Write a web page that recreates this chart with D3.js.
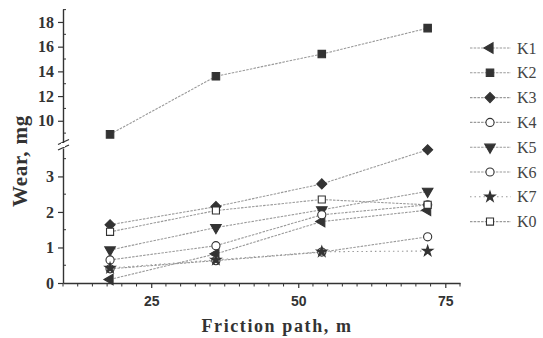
<!DOCTYPE html>
<html>
<head>
<meta charset="utf-8">
<script src="https://cdn.jsdelivr.net/npm/d3@7"></script>
<style>
  html, body { margin: 0; padding: 0; background: #fff; }
  svg { display: block; }
</style>
</head>
<body>
<svg id="chart" width="543" height="338"></svg>
<script>
// Friction path (m) at which wear was measured
const path = [18, 36, 54, 72];

// Wear (mg) per composition
const seriesNames = ["K1", "K2", "K3", "K4", "K5", "K6", "K7", "K0"];
const K1 = [0.10, 0.82, 1.73, 2.05];
const K2 = [8.9, 13.6, 15.4, 17.5];
const K3 = [1.64, 2.15, 2.79, 3.75];
const K4 = [0.40, 0.63, 0.87, 1.30];
const K5 = [0.93, 1.56, 2.06, 2.58];
const K6 = [0.65, 1.05, 1.92, 2.20];
const K7 = [0.42, 0.65, 0.88, 0.90];
const K0 = [1.44, 2.04, 2.35, 2.20];
const seriesValues = [K1, K2, K3, K4, K5, K6, K7, K0];

// Axis ticks
const xTicks = [25, 50, 75];
const yTicksLow = [0, 1, 2, 3];
const yTicksHigh = [10, 12, 14, 16, 18];

const svg = d3.select("#chart");
const ink = "#333";
const lineGray = "#9a9a9a";
const serif = "'Liberation Serif', 'DejaVu Serif', serif";
const sans = "'Liberation Sans', Arial, sans-serif";

// Scales: x axis, and a broken y axis (lower and upper segments)
const x = d3.scaleLinear().domain([10, 77.5]).range([63, 460]);
const yLow = d3.scaleLinear().domain([0, 3.8]).range([283, 148]);
const yHigh = d3.scaleLinear().domain([8.2, 19.05]).range([143, 9]);
const yFor = v => (v > 5 ? yHigh(v) : yLow(v));

// Marker shapes per series
const sym = {
  K1: { type: d3.symbolTriangle, rot: -90, fill: ink, size: 48 },
  K2: { type: d3.symbolSquare, rot: 0, fill: ink, size: 56 },
  K3: { type: d3.symbolSquare, rot: 45, fill: ink, size: 50 },
  K4: { type: d3.symbolCircle, rot: 0, fill: "#fff", size: 52 },
  K5: { type: d3.symbolTriangle, rot: 180, fill: ink, size: 48 },
  K6: { type: d3.symbolCircle, rot: 0, fill: "#fff", size: 52 },
  K7: { type: d3.symbolStar, rot: 0, fill: ink, size: 34 },
  K0: { type: d3.symbolSquare, rot: 0, fill: "#fff", size: 50 }
};
const dashFor = name => (name === "K7" ? "1.5,3" : "2.5,1.2");

// Axes
const axisG = svg.append("g");

// x axis
const xAxis = d3.axisBottom(x).tickValues(xTicks).tickSize(5).tickSizeOuter(0);
const gx = axisG.append("g").attr("transform", "translate(0,283)").call(xAxis);
gx.select(".domain").attr("stroke", ink).attr("stroke-width", 1.4);
gx.selectAll(".tick line").attr("stroke", ink).attr("stroke-width", 1.2);
gx.selectAll(".tick text").attr("font-family", sans).attr("font-weight", "bold")
  .attr("font-size", 14).attr("fill", ink).attr("dy", "1.05em");
const xMinor = d3.range(10, 78, 2.5).filter(v => !xTicks.includes(v));
axisG.append("g").selectAll("line").data(xMinor).join("line")
  .attr("x1", d => x(d)).attr("x2", d => x(d))
  .attr("y1", 283).attr("y2", 286.5)
  .attr("stroke", ink).attr("stroke-width", 1);

// y axis, lower segment
const gyl = axisG.append("g").attr("transform", "translate(63,0)")
  .call(d3.axisLeft(yLow).tickValues(yTicksLow).tickFormat(d3.format("d"))
    .tickSize(5).tickSizeOuter(0));
// y axis, upper segment
const gyh = axisG.append("g").attr("transform", "translate(63,0)")
  .call(d3.axisLeft(yHigh).tickValues(yTicksHigh).tickFormat(d3.format("d"))
    .tickSize(5).tickSizeOuter(0));
[gyl, gyh].forEach(g => {
  g.select(".domain").attr("stroke", ink).attr("stroke-width", 1.4);
  g.selectAll(".tick line").attr("stroke", ink).attr("stroke-width", 1.2);
  g.selectAll(".tick text").attr("font-family", serif).attr("font-weight", "bold")
    .attr("font-size", 16).attr("fill", ink).attr("x", -9);
});
const yMinorLow = d3.range(0.5, 3.8, 1);
const yMinorHigh = d3.range(9, 19.05, 1).filter(v => !yTicksHigh.includes(v));
axisG.append("g").selectAll("line")
  .data(yMinorLow.map(yLow).concat(yMinorHigh.map(yHigh))).join("line")
  .attr("x1", 63).attr("x2", 66).attr("y1", d => d).attr("y2", d => d)
  .attr("stroke", ink).attr("stroke-width", 1);

// axis break marks
[141.5, 147].forEach(yy => {
  axisG.append("line")
    .attr("x1", 58).attr("y1", yy + 3).attr("x2", 69).attr("y2", yy - 2)
    .attr("stroke", ink).attr("stroke-width", 1.3);
});
axisG.append("rect").attr("x", 61).attr("y", 143).attr("width", 4).attr("height", 4)
  .attr("fill", "#fff");

// Series lines and markers
const line = d3.line().x((d, i) => x(path[i])).y(d => yFor(d));
const plot = svg.append("g");
seriesNames.forEach((name, si) => {
  const vals = seriesValues[si];
  plot.append("path").datum(vals)
    .attr("d", line).attr("fill", "none")
    .attr("stroke", lineGray).attr("stroke-width", 1.1)
    .attr("stroke-dasharray", dashFor(name));
});
seriesNames.forEach((name, si) => {
  const vals = seriesValues[si];
  const s = sym[name];
  plot.append("g").selectAll("path").data(vals).join("path")
    .attr("d", d3.symbol().type(s.type).size(s.size))
    .attr("transform", (d, i) => `translate(${x(path[i])},${yFor(d)}) rotate(${s.rot})`)
    .attr("fill", s.fill).attr("stroke", ink).attr("stroke-width", 1.1);
});

// Axis titles
svg.append("text").attr("x", 277).attr("y", 332).attr("text-anchor", "middle")
  .attr("font-family", serif).attr("font-weight", "bold").attr("font-size", 18)
  .attr("letter-spacing", 1.6).attr("fill", ink).text("Friction path, m");
svg.append("text").attr("transform", "translate(27,161) rotate(-90)")
  .attr("text-anchor", "middle")
  .attr("font-family", serif).attr("font-weight", "bold").attr("font-size", 21)
  .attr("letter-spacing", 0.8).attr("fill", ink).text("Wear, mg");

// Legend
const legend = svg.append("g");
seriesNames.forEach((name, i) => {
  const yy = 48 + i * 24.8;
  const s = sym[name];
  legend.append("line").attr("x1", 470).attr("x2", 511).attr("y1", yy).attr("y2", yy)
    .attr("stroke", lineGray).attr("stroke-width", 1.1)
    .attr("stroke-dasharray", dashFor(name));
  legend.append("path")
    .attr("d", d3.symbol().type(s.type).size(s.size))
    .attr("transform", `translate(490,${yy}) rotate(${s.rot})`)
    .attr("fill", s.fill).attr("stroke", ink).attr("stroke-width", 1.1);
  legend.append("text").attr("x", 517).attr("y", yy + 5.5)
    .attr("font-family", serif).attr("font-size", 16).attr("fill", "#444")
    .text(name);
});
</script>
</body>
</html>
